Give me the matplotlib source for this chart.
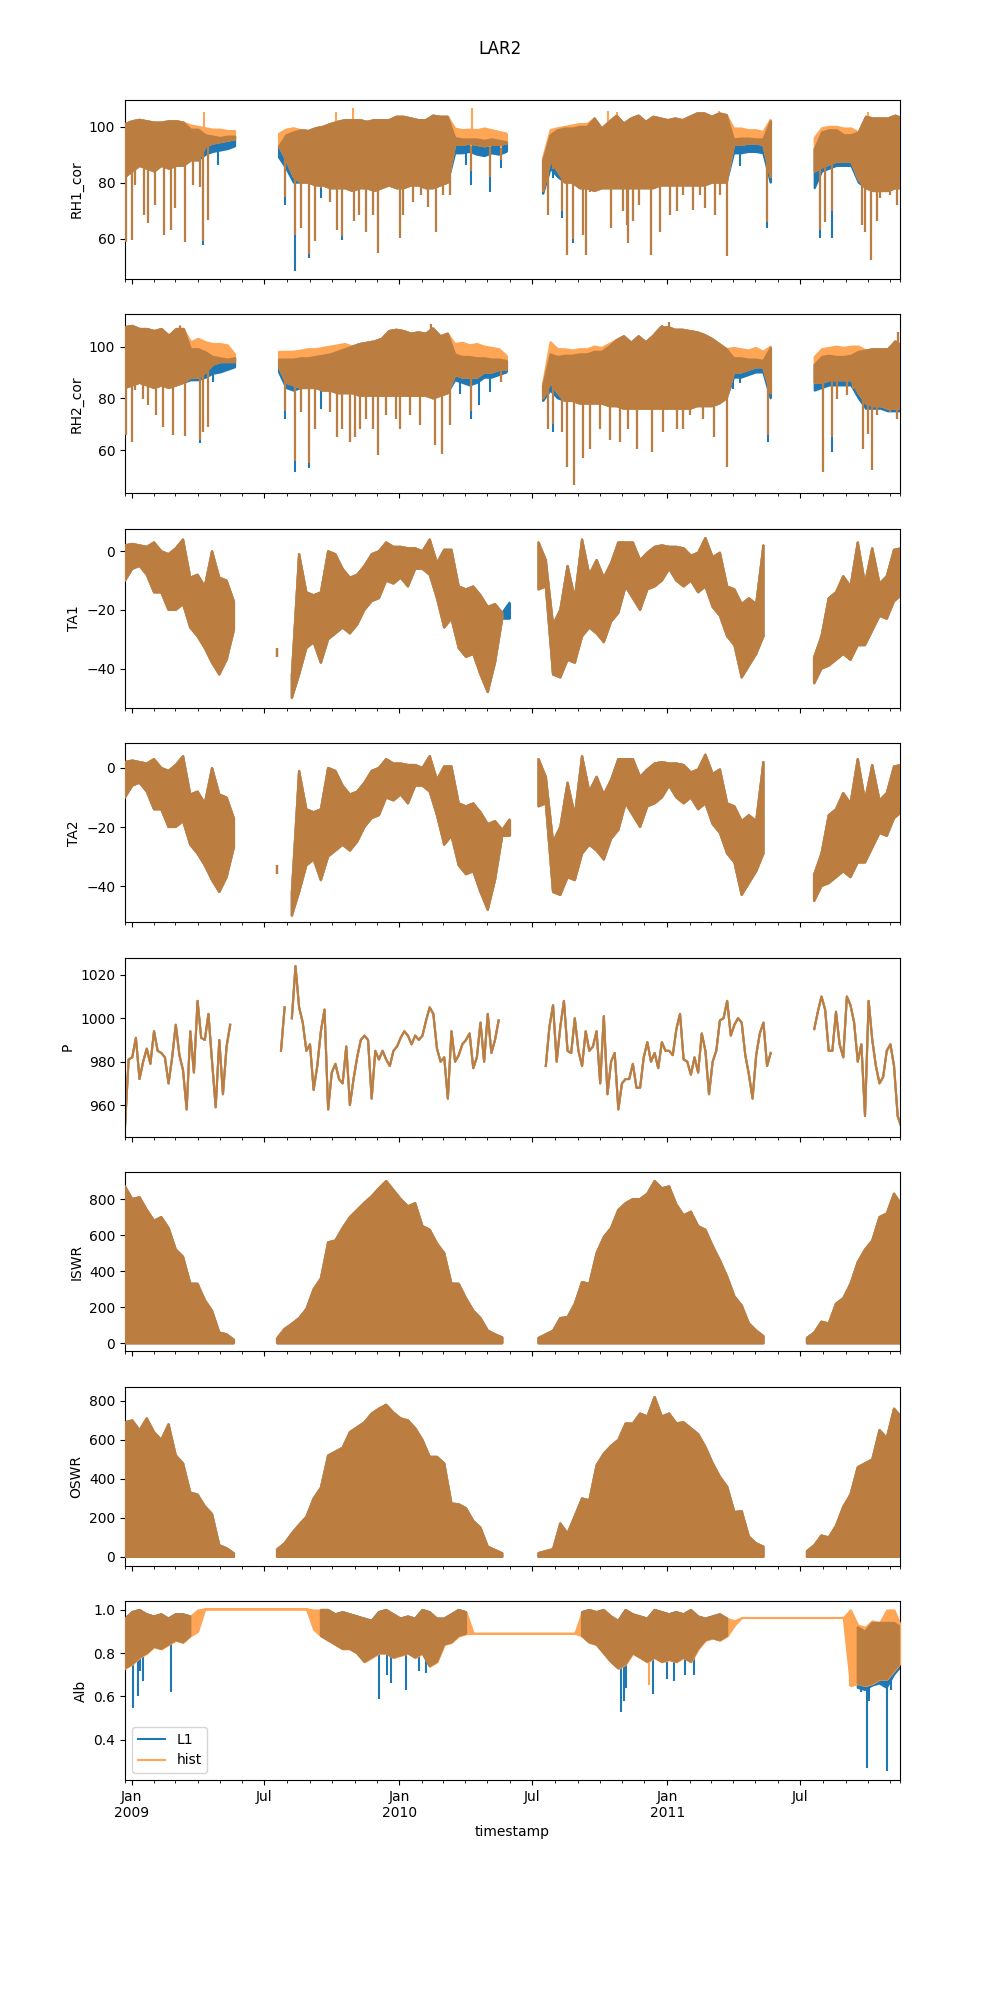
"""
LAR2 station: L1 vs hist series, eight stacked panels.
Values are read off the reference at ~10-day (bands) or ~5-day (pressure)
spacing; dense hourly traces are drawn as low/high bands plus spikes.
"""
import matplotlib

matplotlib.use("Agg")
import matplotlib.dates as mdates  # noqa: E402
import matplotlib.pyplot as plt  # noqa: E402
import matplotlib.ticker as mticker  # noqa: E402
import numpy as np  # noqa: E402
import pandas as pd  # noqa: E402
from matplotlib.colors import to_rgb  # noqa: E402
from matplotlib.lines import Line2D  # noqa: E402

nan = np.nan
BLUE = "#1f77b4"
ORANGE = "#ff7f0e"
HIST_ALPHA = 0.7

START = "2008-12-23"
X_END = "2011-11-14 06:00"

# sample grids
rh_time = pd.date_range(START, periods=107, freq="10D")
grid_time = pd.date_range(START, "2011-11-16", periods=108)
p_time = pd.date_range(START, "2011-11-16", periods=215)

# ── RH1_cor ────────────────────────────────────────────────────────────────
rh1_hi = ([101, 102, 102.5, 102, 101.5, 101.5, 102, 102, 101.5, 99, 99, 97, 96.5, 96, 96.5, 96.5]
          + [nan] * 5
          + [93, 97, 98, 98.8, 98.5, 99.5, 100, 101, 101.8, 102.4, 102.4, 102.4, 101.8, 102.4, 102.4, 102.4,
             103.6, 103.6, 103, 102.4, 102.4, 104, 103.6, 103.6, 96, 95.5, 95.5, 95.5, 95, 95.5, 95, 94.5]
          + [nan] * 4
          + [88, 97, 98.8, 99.4, 99.4, 100, 100, 103, 99.4, 101.8, 104, 101.2, 103, 104, 101.8, 103.6,
             103, 102.4, 103, 102.4, 103.6, 104.8, 104.8, 103.6, 104.8, 104.2, 95.5, 95.8, 95.8, 95.5, 95.5, 102]
          + [nan] * 5
          + [92, 98, 98.8, 98.8, 97, 97, 98, 103.6, 103, 103, 103, 104, 103])
rh1_lo = ([82, 84, 86, 85, 84, 86, 85, 86, 86, 88, 88, 90, 91, 91.5, 92, 93]
          + [nan] * 5
          + [89, 85, 80, 80, 80, 79, 79, 78, 78, 78, 77, 78, 78, 77, 78, 79,
             78, 78, 79, 79, 78, 78, 79, 80, 90.5, 90.5, 91, 90, 89.5, 90.5, 90, 91]
          + [nan] * 4
          + [76, 85, 82, 80, 80, 78, 78, 77, 78, 78, 78, 78, 78, 78, 78, 78,
             79, 79, 79, 79, 79, 79, 79, 80, 80, 80, 90.5, 90.5, 91, 91, 90.5, 80]
          + [nan] * 5
          + [78, 84, 85, 86, 86, 86, 80, 78, 77, 77, 77, 78, 78])
# hist sits on top of L1 in the dense periods and runs higher in the drier spells
rh1_hist_hi = (rh1_hi[:9] + [100.5, 100, 99.5, 99, 99, 98.5, 98.5] + [nan] * 5
               + [97.5, 99, 99.5] + rh1_hi[24:45]
               + [99.4, 98.8, 99, 98.8, 99.4, 98.8, 98.2, 97.6] + [nan] * 4
               + [89, 98.8, 99.5, 100, 100.5, 101, 101] + rh1_hi[64:83]
               + [99.4, 99.4, 98.8, 98.8, 98.2, 102.5] + [nan] * 5
               + [96, 99.5, 100, 100, 99.4, 99.4] + rh1_hi[100:])
rh1_hist_lo = ([82, 84, 86, 85, 84, 86, 85, 86, 86, 88, 88, 93, 94, 94.5, 95, 95.5]
               + [nan] * 5
               + [93, 88, 82, 80, 80, 79, 79, 78, 78, 78, 77, 78, 78, 77, 78, 79,
                  78, 78, 79, 79, 78, 78, 79, 80, 93.5, 93.5, 94, 93.5, 93, 93.5, 93.5, 94]
               + [nan] * 4
               + [77, 88, 84, 80, 80, 78, 78, 77, 78, 78, 78, 78, 78, 78, 78, 78,
                  79, 79, 79, 79, 79, 79, 79, 80, 80, 80, 93.5, 93.5, 94, 94, 93.5, 82]
               + [nan] * 5
               + [84, 85.5, 86.5, 87.5, 87.5, 87.5, 81, 78, 77, 77, 77, 78, 78])
# spikes: days after START, L1 value, hist value
rh1_spk_day = [1.7, 9.9, 14, 25.4, 31.3, 40.4, 52.6, 63.1, 67.6, 82.2, 92.6, 101.7, 106.3, 113.1, 126.7,
               218.5, 232.2, 240.3, 250.8, 258.5, 267.6, 279.9, 289, 296.3, 312.2, 319, 329, 338.1, 345.4,
               359.9, 375.4, 379, 392.6, 404, 413, 423.5, 433.5, 442.6, 465.4, 472.2, 497.2, 511.8,
               575.9, 583.6, 595, 602.7, 610.9, 623.6, 628.1, 633.6, 661.8, 679, 684.5, 685.9, 692.7,
               700.9, 717.2, 729, 742.7, 751.8, 760.9, 773.6, 783.6, 790.4, 803.6, 810.9, 820.9, 838.1, 874.5,
               947.2, 954, 963.1, 1004, 1008.6, 1016.8, 1024.5, 1029, 1042.7, 1051.8,
               107, 288, 310.8, 473, 658.6, 670.9, 809, 1013.1]
rh1_spk_l1 = [58.9, 59.5, 79.2, 68.5, 65.5, 72, 61.3, 63.1, 70.8, 58.9, 79.2, 78.6, 57.7, 66.7, 86.3,
              72, 48.2, 63.7, 53, 59, 74.4, 73.2, 63.1, 59.5, 66.1, 68.5, 62.5, 68.5, 54.8,
              81, 60.1, 68.5, 73.2, 75.6, 71.4, 62.5, 75.6, 75.6, 86.5, 79.2, 76.8, 85.1,
              68.5, 81.6, 67.3, 54.2, 58.4, 61.3, 54.2, 76.8, 63.7, 69.7, 64.9, 58.4, 66.1,
              72, 54.2, 62.5, 68.5, 69.7, 75.6, 70.2, 75.6, 70.8, 68.5, 75.6, 53.6, 86, 63.7,
              60.1, 66, 60.1, 64.9, 62.5, 52.4, 66.1, 74.4, 75.6, 72,
              nan, nan, nan, nan, nan, nan, nan, nan]
rh1_spk_hist = [58.9, 59.5, 79.2, 68.5, 65.5, 72, 61.3, 63.1, 70.8, 58.9, 79.2, 78.6, 59, 66.7, nan,
                75, 61.3, 63.7, 54.5, 59, 78, 73.2, 63.1, 61, 66.1, 68.5, 62.5, 68.5, 54.8,
                81, 60.1, 68.5, 73.2, 75.6, 71.4, 62.5, 75.6, 75.6, nan, 84, 82, 88,
                68.5, 85, 70, 54.2, 60, 61.3, 54.2, 76.8, 63.7, 69.7, 64.9, 58.4, 66.1,
                72, 54.2, 62.5, 68.5, 69.7, 75.6, 70.2, 75.6, 70.8, 68.5, 75.6, 53.6, nan, 66,
                63, 66, 70, 64.9, 62.5, 52.4, 66.1, 74.4, 75.6, 72,
                105.4, 105.4, 106.6, 106.6, 105.6, 105.4, 105.6, 105.4]

# ── RH2_cor ────────────────────────────────────────────────────────────────
rh2_hi = ([107.5, 108, 106.8, 106.8, 106, 106.8, 104.2, 106.8, 106.8, 99, 99, 97.8, 96, 95.5, 95, 95.5]
          + [nan] * 5
          + [95, 95, 95, 95.5, 95.5, 96, 96.5, 97, 98, 99, 100, 101, 101.5, 102, 103, 106,
             106.5, 106, 105, 105.5, 105, 107, 104, 105, 97, 96, 96, 95.5, 95.5, 95, 95, 94.5]
          + [nan] * 4
          + [85, 97, 96, 96.5, 96.5, 97, 97, 98, 98, 100, 102.5, 104, 101.5, 104, 101.7, 104.2,
             107.4, 107.5, 106.5, 106.5, 106, 105.5, 104.5, 103, 101, 99, 95.5, 95.5, 95, 95, 94.5, 99.5]
          + [nan] * 5
          + [93, 96, 96.5, 96, 96, 96.5, 98, 98.5, 99, 99, 99, 102, 100])
rh2_lo = ([84, 85, 86, 85, 84, 85, 84, 85, 86, 87, 87, 88, 89.5, 90, 91, 92]
          + [nan] * 5
          + [90, 84, 83, 84, 84, 84, 83, 83, 82, 82, 82, 81, 81, 81, 81, 81,
             81, 81, 81, 81, 81, 80, 81, 82, 87, 86, 85, 86, 88, 88, 89, 90]
          + [nan] * 4
          + [79, 83, 80, 79, 79, 78, 78, 78, 78, 77, 77, 76, 76, 76, 76, 76,
             76, 76, 76, 76, 76, 77, 77, 77, 78, 80, 88, 88, 89, 90, 90, 80]
          + [nan] * 5
          + [83, 84, 85, 85, 85, 85, 80, 76, 76, 76, 75, 75, 75])
rh2_hist_hi = (rh2_hi[:9] + [101.7, 103, 101.7, 101, 101, 100.5, 97] + [nan] * 5
               + [98, 98, 98, 98.5, 99, 99, 99.5, 100, 100.5, 101] + rh2_hi[31:45]
               + [101, 101.5, 100.5, 101, 100, 99.5, 99, 96.5] + [nan] * 4
               + [86, 101.7, 99, 99, 98.5, 99, 99, 100, 99.5, 101] + rh2_hi[67:83]
               + [99.5, 99, 98.5, 99.5, 98, 100] + [nan] * 5
               + [96, 99, 99.5, 100, 99.5, 100, 100] + rh2_hi[101:])
rh2_hist_lo = ([84, 85, 86, 85, 84, 85, 84, 85, 86, 88, 88, 90, 93, 94, 94, 94]
               + [nan] * 5
               + [92, 86, 85, 84, 84, 84, 83, 83, 82, 82, 82, 81, 81, 81, 81, 81,
                  81, 81, 81, 81, 81, 80, 81, 82, 89, 88, 88, 88, 90, 90, 91, 91]
               + [nan] * 4
               + [80, 86, 82, 79, 79, 78, 78, 78, 78, 77, 77, 76, 76, 76, 76, 76,
                  76, 76, 76, 76, 76, 77, 77, 77, 78, 80, 90, 90, 91, 92, 92, 82]
               + [nan] * 5
               + [86, 86, 87, 87, 87, 87, 82, 78, 77, 77, 76, 76, 76])
rh2_spk_day = [1.7, 9.9, 14, 24.5, 31.3, 41.7, 51.7, 65.4, 82.2, 101.7, 106.3, 113.1, 119.9,
               218.5, 232.2, 240.3, 250.8, 258.5, 267.6, 279, 289, 296.3, 306.3, 313.1, 320, 329, 338.1,
               345, 356.3, 369, 375.4, 388, 401.7, 422.6, 432.6, 442.6, 456.3, 472.2, 482.6, 497.2, 511.8,
               575.9, 583.6, 595, 602.7, 611.8, 624.5, 633.6, 647.2, 660.9, 674.5, 685.9, 697.2, 717.7,
               733.6, 751.8, 760.9, 770, 788.1, 802.7, 820, 829, 838.1, 876.8,
               951.8, 963.1, 970, 983.6, 992.7, 1005.4, 1013.1, 1017.7, 1024.5, 1033.6, 1042.7, 1051.8,
               74.5, 417.6, 731.3, 741.8, 1053]
rh2_spk_l1 = [65.8, 63.2, 83.1, 79.9, 77.3, 73.5, 69, 65.8, 65.5, 62.6, 67, 69, 86.5,
              72.2, 51.7, 74.7, 53, 68.3, 76, 74.7, 65.1, 68.3, 63.2, 65.1, 68.3, 72.2, 68.3,
              58.1, 73.5, 72.2, 68.3, 73.5, 69.6, 61.9, 58.7, 69.6, 81.8, 72.2, 77.3, 82.4, 86.3,
              68.3, 67, 67, 53.6, 46.5, 56.8, 60.6, 68.3, 63.8, 63.2, 68.3, 60.6, 59.4,
              67, 68.3, 68.3, 73.5, 72.2, 65.1, 53.6, 83.7, 86, 63.2,
              51.7, 59.4, 79.9, 81.2, 83.7, 60.6, 66.4, 52.3, 73.5, 78.6, 74.7, 72.2,
              108, 108.7, 108.5, 109.4, 105.5]
rh2_spk_hist = [65.8, 63.2, 83.1, 79.9, 77.3, 73.5, 69, 65.8, 65.5, 64, 67, 69, nan,
                75, 56, 74.7, 55, 68.3, nan, 74.7, 65.1, 68.3, 63.2, 65.1, 68.3, 72.2, 68.3,
                58.1, 73.5, 72.2, 68.3, 73.5, 69.6, 61.9, 58.7, 69.6, nan, 75, nan, nan, 86.3,
                68.3, 70, 67, 53.6, 46.5, 56.8, 60.6, 68.3, 63.8, 63.2, 68.3, 60.6, 59.4,
                67, 68.3, 68.3, 73.5, 72.2, 65.1, 53.6, nan, nan, 66,
                51.7, 65, 79.9, 81.2, 83.7, 60.6, 66.4, 52.3, 73.5, 78.6, 74.7, 72.2,
                108.5, 108.7, 108.5, 109.4, 105.5]

# ── TA1 / TA2 (the two sensors read the same at this scale) ────────────────
ta_hi = ([2, 2.5, 2, 1.5, 3, 0, -1, 1, 4, -9, -8, -12, 0, -9, -10, -17]
         + [nan] * 5 + [-33, nan]
         + [-42, -1, -14, -15, -14, 0, -1, -6, -9, -8, -5, -1, 0, 3, 1.5, 1.5,
            1, 1, 0, 4, -4, 0.5, 0.5, -12, -13, -12, -15, -19, -18, -21, -17.5]
         + [nan] * 3
         + [3, -3, -25, -20, -5, -16, 4, -8, -3, -9, -4, 3, 3, 3, -3, -0.5,
            1.5, 2, 1.5, 1.5, 1, -1.5, -0.5, 4.5, -2, -0.5, -12, -13, -18, -16, -18, 2]
         + [nan] * 6
         + [-36, -29, -16, -14, -8.5, -12, 3, -11, 1, -11, -8.5, 0.5, 1])
ta_lo = ([-10, -6, -5, -8, -14, -14, -20, -20, -18, -26, -29, -33, -38, -42, -37, -27]
         + [nan] * 5 + [-36, nan]
         + [-50, -42, -33, -31, -38, -30, -28, -26, -28, -25, -20, -17, -16, -10, -11, -9,
            -12, -6, -6, -8, -16, -26, -23, -33, -36, -35, -42, -48, -38, -23, -23]
         + [nan] * 3
         + [-13, -12, -42, -43, -37, -38, -29, -26, -28, -31, -24, -21, -12, -16, -20, -13,
            -12, -10, -6, -10, -12, -10, -14, -12, -19, -22, -29, -32, -43, -39, -35, -29]
         + [nan] * 6
         + [-45, -40, -39, -37, -35, -37, -32, -32, -27, -22, -23, -17, -15])
# TA1 hist lacks the short fragment at index 53
ta1_hist_hi = ta_hi[:53] + [nan] + ta_hi[54:]
ta1_hist_lo = ta_lo[:53] + [nan] + ta_lo[54:]

# ── P (L1 and hist identical) ──────────────────────────────────────────────
p_vals = ([950, 981, 982, 991, 972, 980, 986, 979, 994, 985, 984, 982, 970, 982, 997, 983,
           976, 958, 994, 975, 1008, 991, 990, 1002, 980, 959, 990, 965, 987, 997]
          + [nan] * 13 + [985, 1005, nan]
          + [1000, 1024, 1005, 998, 985, 988, 967, 978, 994, 1004, 958, 975, 979, 972, 970, 987,
             960, 972, 982, 990, 992, 990, 963, 985, 981, 985, 981, 978, 985, 987, 991, 994,
             992, 988, 992, 990, 992, 999, 1005, 1002, 986, 980, 982, 963, 994, 980, 983, 988,
             990, 993, 977, 982, 998, 980, 1002, 984, 990, 999]
          + [nan] * 12
          + [978, 996, 1006, 980, 996, 1008, 985, 984, 1000, 985, 978, 994, 985, 987, 994, 970,
             1001, 965, 980, 984, 958, 970, 972, 972, 979, 968, 968, 982, 989, 980, 984, 977,
             989, 985, 985, 983, 995, 1002, 981, 980, 974, 982, 975, 993, 985, 965, 980, 985,
             999, 1000, 1008, 992, 997, 1000, 998, 983, 974, 963, 983, 993, 998, 978, 984]
          + [nan] * 11
          + [995, 1003, 1010, 1004, 985, 985, 1003, 988, 982, 1010, 1006, 998, 980, 988, 955, 1008,
             990, 978, 970, 973, 985, 988, 978, 955, 950])

# ── ISWR / OSWR daily maxima (night values ~0) ─────────────────────────────
iswr_hi = ([870, 800, 810, 740, 680, 700, 640, 520, 480, 331, 330, 240, 180, 60, 50, 20]
           + [nan] * 5 + [30, 80]
           + [108, 140, 190, 300, 360, 560, 570, 640, 700, 740, 780, 815, 860, 900, 850, 800,
              760, 777, 650, 630, 554, 500, 331, 330, 250, 182, 140, 71, 50, 33]
           + [nan] * 4
           + [30, 50, 70, 140, 145, 220, 340, 330, 500, 590, 640, 740, 777, 800, 800, 830,
              900, 860, 870, 770, 710, 730, 650, 630, 540, 460, 370, 260, 210, 110, 71, 40]
           + [nan] * 5
           + [30, 60, 120, 110, 220, 250, 330, 450, 520, 570, 700, 720, 830, 770])
oswr_hi = ([690, 700, 650, 710, 640, 600, 680, 520, 480, 330, 320, 260, 220, 60, 45, 19]
           + [nan] * 5 + [40, 70]
           + [121, 165, 206, 300, 355, 520, 540, 560, 640, 665, 690, 735, 760, 780, 740, 710,
              700, 660, 600, 513, 513, 480, 274, 270, 250, 185, 150, 53, 36, 19]
           + [nan] * 4
           + [20, 30, 40, 172, 121, 210, 300, 290, 470, 530, 570, 600, 684, 684, 735, 720,
              820, 720, 735, 685, 690, 660, 630, 564, 480, 411, 360, 230, 235, 104, 70, 53]
           + [nan] * 5
           + [30, 60, 110, 100, 160, 257, 320, 460, 480, 500, 650, 610, 760, 718])

# ── Alb ────────────────────────────────────────────────────────────────────
alb_l1_hi = ([0.96, 0.99, 1.0, 0.98, 0.97, 0.98, 0.96, 0.98, 0.98, 0.97]
             + [nan] * 17
             + [1.0, 1.0, 0.98, 0.99, 0.98, 0.97, 0.96, 0.95, 0.99, 1.0, 0.98, 0.96, 0.97, 0.96,
                1.0, 0.99, 0.96, 0.96, 0.98, 1.0, 0.99]
             + [nan] * 15
             + [0.99, 1.0, 0.99, 1.0, 0.97, 0.95, 1.0, 0.98, 0.97, 0.96, 1.0, 0.99, 0.98, 0.99,
                0.98, 1.0, 0.97, 0.96, 0.97, 0.98, 0.96]
             + [nan] * 17
             + [0.92, 0.90, 0.94, 0.94, 0.94, 0.94, 0.93])
alb_l1_lo = ([0.73, 0.75, 0.78, 0.80, 0.83, 0.82, 0.84, 0.86, 0.85, 0.88]
             + [nan] * 17
             + [0.88, 0.86, 0.84, 0.82, 0.82, 0.80, 0.76, 0.78, 0.80, 0.80, 0.78, 0.79, 0.80, 0.78,
                0.80, 0.74, 0.76, 0.84, 0.85, 0.88, 0.89]
             + [nan] * 15
             + [0.88, 0.85, 0.84, 0.80, 0.76, 0.73, 0.75, 0.80, 0.78, 0.76, 0.78, 0.76, 0.77, 0.76,
                0.78, 0.76, 0.82, 0.86, 0.87, 0.86, 0.88]
             + [nan] * 17
             + [0.64, 0.63, 0.65, 0.66, 0.64, 0.70, 0.74])
alb_hist_hi = (alb_l1_hi[:10] + [1.0] + [1.005] * 15 + [1.0] + alb_l1_hi[27:48]
               + [0.892] * 15 + alb_l1_hi[63:84] + [0.95] + [0.965] * 15 + [1.0]
               + [0.93, 0.92, 0.95, 0.94, 1.0, 1.0, 0.92])
alb_hist_lo = (alb_l1_lo[:10] + [0.90] + [1.005] * 15 + [0.91] + alb_l1_lo[27:48]
               + [0.892] * 15 + alb_l1_lo[63:84] + [0.93] + [0.965] * 15 + [0.65]
               + [0.66, 0.65, 0.66, 0.68, 0.68, 0.72, 0.76])
alb_spk_day = [10.3, 17.2, 20.6, 24, 63.2, 346.8, 357.1, 362.6, 383.2, 400.4, 410, 676.5, 680,
               683.4, 714.3, 719.8, 738.3, 748.6, 763.7, 776.1, 1002.7, 1011.7, 1014.4, 1038.5, 1044]
alb_spk_l1 = [0.546, 0.60, 0.72, 0.67, 0.62, 0.59, 0.70, 0.66, 0.63, 0.72, 0.71, 0.53, 0.577,
              0.64, nan, 0.61, 0.68, 0.67, 0.70, 0.70, 0.62, 0.27, 0.577, 0.254, 0.63]
alb_spk_hist = [nan] * 14 + [0.654] + [nan] * 10


def _over(top, bottom, a):
    t, b = np.array(to_rgb(top)), np.array(to_rgb(bottom))
    return tuple(a * t + (1 - a) * b)


HIST_ONLY = _over(ORANGE, "white", HIST_ALPHA)   # hist line over the white background
BOTH = _over(ORANGE, BLUE, HIST_ALPHA)           # hist line over the L1 line


def _arr(a):
    return np.asarray(a, dtype=float)


def _mid(t, lo, hi, ts):
    x = mdates.date2num(t.to_pydatetime())
    xs = mdates.date2num(ts.to_pydatetime())
    m = (lo + hi) / 2
    ok = ~np.isnan(m)
    return np.interp(xs, x[ok], m[ok])


def _band(ax, t, lo, hi, color, z):
    ax.fill_between(t, lo, hi, facecolor=color, edgecolor=color,
                    linewidth=1.5, joinstyle="round", zorder=z)
    ok = ~(np.isnan(lo) | np.isnan(hi))
    ax.vlines(t[ok], lo[ok], hi[ok], color=color, linewidth=1.5, zorder=z)


def draw_pair(ax, t, l1_lo, l1_hi, h_lo, h_hi, spikes=None):
    """L1 (blue) under hist (orange, alpha .7): blue, hist-only and overlap
    layers are drawn opaque, in that order, so the hist alpha never stacks."""
    l1_lo, l1_hi, h_lo, h_hi = map(_arr, (l1_lo, l1_hi, h_lo, h_hi))
    with np.errstate(invalid="ignore"):
        b_lo, b_hi = np.maximum(l1_lo, h_lo), np.minimum(l1_hi, h_hi)
        bad = b_lo > b_hi
    b_lo[bad] = nan
    b_hi[bad] = nan
    layers = [[l1_lo, l1_hi, BLUE], [h_lo, h_hi, HIST_ONLY], [b_lo, b_hi, BOTH]]

    if spikes is not None:
        days, v1, v2 = spikes
        ts = pd.Timestamp(START) + pd.to_timedelta(_arr(days), unit="D")
        v1, v2 = _arr(v1), _arr(v2)
        m1, m2 = _mid(t, l1_lo, l1_hi, ts), _mid(t, h_lo, h_hi, ts)
        a1, z1 = np.minimum(v1, m1), np.maximum(v1, m1)
        a2, z2 = np.minimum(v2, m2), np.maximum(v2, m2)
        with np.errstate(invalid="ignore"):
            ab, zb = np.maximum(a1, a2), np.minimum(z1, z2)
            ab[ab > zb] = nan
        for layer, (a, z) in zip(layers, [(a1, z1), (a2, z2), (ab, zb)]):
            layer += [ts, a, z]

    for k, layer in enumerate(layers):
        lo, hi, color = layer[:3]
        _band(ax, t, lo, hi, color, 2 + k)
        if len(layer) > 3:
            ts, a, z = layer[3:]
            ok = ~(np.isnan(a) | np.isnan(z))
            ax.vlines(ts[ok], a[ok], z[ok], color=color, linewidth=1.5, zorder=2 + k)


fig, axes = plt.subplots(8, 1, figsize=(10, 20), sharex=True)
fig.subplots_adjust(top=0.95)
fig.suptitle("LAR2")

draw_pair(axes[0], rh_time, rh1_lo, rh1_hi, rh1_hist_lo, rh1_hist_hi,
          (rh1_spk_day, rh1_spk_l1, rh1_spk_hist))
draw_pair(axes[1], rh_time, rh2_lo, rh2_hi, rh2_hist_lo, rh2_hist_hi,
          (rh2_spk_day, rh2_spk_l1, rh2_spk_hist))
draw_pair(axes[2], grid_time, ta_lo, ta_hi, ta1_hist_lo, ta1_hist_hi)
draw_pair(axes[3], grid_time, ta_lo, ta_hi, ta_lo, ta_hi)

ax = axes[4]
p_l1 = _arr(p_vals)
p_hist = _arr(p_vals)
ax.plot(p_time, p_l1, color=BLUE, lw=1.5)
ax.plot(p_time, p_hist, color=HIST_ONLY, lw=1.5)
ax.plot(p_time, np.where(p_l1 == p_hist, p_l1, nan), color=BOTH, lw=1.5)

zeros = np.zeros(len(grid_time))
draw_pair(axes[5], grid_time, zeros, iswr_hi, zeros, iswr_hi)
draw_pair(axes[6], grid_time, zeros, oswr_hi, zeros, oswr_hi)
draw_pair(axes[7], grid_time, alb_l1_lo, alb_l1_hi, alb_hist_lo, alb_hist_hi,
          (alb_spk_day, alb_spk_l1, alb_spk_hist))

names = ["RH1_cor", "RH2_cor", "TA1", "TA2", "P", "ISWR", "OSWR", "Alb"]
ylims = [(45.6, 109.6), (43.4, 112.4), (-53.3, 7.6), (-52.2, 8.3),
         (945.5, 1027.8), (-43, 948), (-44, 872), (0.214, 1.040)]
yticks = [[60, 80, 100], [60, 80, 100], [-40, -20, 0], [-40, -20, 0],
          [960, 980, 1000, 1020], [0, 200, 400, 600, 800], [0, 200, 400, 600, 800],
          [0.4, 0.6, 0.8, 1.0]]
for ax, name, lim, ticks in zip(axes, names, ylims, yticks):
    ax.set_ylabel(name)
    ax.set_ylim(*lim)
    ax.set_yticks(ticks)

# pandas-style date axis: Jan/Jul majors, monthly minors plus the two edges
x0, x1 = pd.Timestamp(START), pd.Timestamp(X_END)
ax = axes[-1]
ax.set_xlim(x0, x1)
majors = pd.date_range("2009-01-01", "2011-07-01", freq="6MS")
minors = list(pd.date_range("2009-01-01", "2011-11-01", freq="MS")) + [x0, x1]
ax.xaxis.set_major_locator(mticker.FixedLocator(mdates.date2num(majors.to_pydatetime())))
ax.xaxis.set_minor_locator(mticker.FixedLocator(mdates.date2num([d.to_pydatetime() for d in minors])))


def _fmt(x, pos=None):
    d = mdates.num2date(x)
    return d.strftime("%b\n%Y") if d.month == 1 else d.strftime("%b")


ax.xaxis.set_major_formatter(mticker.FuncFormatter(_fmt))
for lab in ax.get_xticklabels():
    lab.set_rotation(0)
    lab.set_ha("center")
ax.set_xlabel("timestamp")

ax.legend(handles=[Line2D([0], [0], color=BLUE, lw=1.5, label="L1"),
                   Line2D([0], [0], color=ORANGE, alpha=HIST_ALPHA, lw=1.5, label="hist")],
          loc="lower left")

fig.savefig("out.png", dpi=100)
plt.close(fig)
